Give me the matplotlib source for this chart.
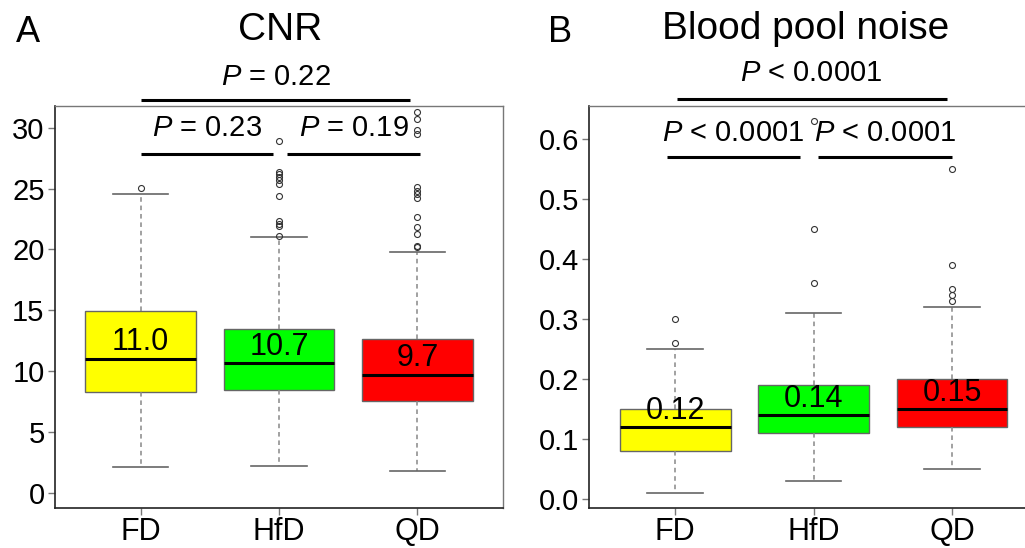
import matplotlib
matplotlib.use("Agg")
import matplotlib.pyplot as plt

plt.rcParams['font.family'] = ['Liberation Sans', 'DejaVu Sans']
plt.rcParams['mathtext.fontset'] = 'custom'
plt.rcParams['mathtext.it'] = 'Liberation Sans:italic'
plt.rcParams['mathtext.rm'] = 'Liberation Sans'

# ---------------- data ----------------
groups = ["FD", "HfD", "QD"]
colors = ["#FFFF00", "#00FF00", "#FF0000"]

# Panel A: CNR
cnr_q1 = [8.3, 8.45, 7.55]
cnr_med = [11.0, 10.65, 9.7]
cnr_q3 = [14.95, 13.45, 12.6]
cnr_lo = [2.1, 2.2, 1.75]
cnr_hi = [24.6, 21.05, 19.8]
cnr_fliers = [
    [25.05],
    [28.9, 26.4, 26.2, 25.95, 25.75, 25.35, 24.4, 22.35, 22.1, 21.95, 21.1],
    [31.3, 30.7, 29.85, 29.5, 25.1, 24.8, 24.55, 24.2, 22.65, 21.85, 21.3, 20.3, 20.2],
]
cnr_labels = ["11.0", "10.7", "9.7"]
cnr_p_pair = ["= 0.23", "= 0.19"]
cnr_p_all = "= 0.22"

# Panel B: Blood pool noise
bpn_q1 = [0.08, 0.11, 0.12]
bpn_med = [0.12, 0.14, 0.15]
bpn_q3 = [0.15, 0.19, 0.20]
bpn_lo = [0.01, 0.03, 0.05]
bpn_hi = [0.25, 0.31, 0.32]
bpn_fliers = [
    [0.26, 0.30],
    [0.36, 0.45, 0.63],
    [0.33, 0.34, 0.35, 0.39, 0.55],
]
bpn_labels = ["0.12", "0.14", "0.15"]
bpn_p_pair = ["< 0.0001", "< 0.0001"]
bpn_p_all = "< 0.0001"

W, H = 1025, 548
fig = plt.figure(figsize=(W / 100, H / 100), dpi=100)


def fig_axes(x0, y0, x1, y1):
    return fig.add_axes([x0 / W, 1 - y1 / H, (x1 - x0) / W, (y1 - y0) / H])


axA = fig_axes(55, 106, 503, 508)
axB = fig_axes(589.3, 105.7, 1037.9, 508.3)

PFS = 21


def draw_panel(ax, q1, med, q3, lo, hi, fliers, labels, ylim, yticks, yticklabels,
               p_pair, p_all, bracket_low, p_low_y, bracket_top, p_top_y,
               pair_x, top_x):
    stats = []
    for i in range(3):
        stats.append(dict(q1=q1[i], med=med[i], q3=q3[i], whislo=lo[i],
                          whishi=hi[i], fliers=fliers[i], label=groups[i]))
    bp = ax.bxp(stats, positions=[1, 2, 3], widths=0.8, capwidths=0.4,
                patch_artist=True, showfliers=True,
                boxprops=dict(edgecolor="#666666", linewidth=1.0),
                medianprops=dict(color="black", linewidth=2.2, solid_capstyle="butt"),
                whiskerprops=dict(color="#888888", linewidth=1.1, linestyle=(0, (3, 2.5))),
                capprops=dict(color="#666666", linewidth=1.2),
                flierprops=dict(marker="o", markersize=4.3, markerfacecolor="none",
                                markeredgecolor="#333333", markeredgewidth=0.8))
    for patch, c in zip(bp["boxes"], colors):
        patch.set_facecolor(c)
    for i in range(3):
        ax.annotate(labels[i], xy=(i + 1, med[i]), xytext=(0, 12),
                    textcoords="offset points", ha="center", va="center",
                    fontsize=22, color="black")

    ax.set_xlim(0.38, 3.62)
    ax.set_ylim(*ylim)
    ax.set_yticks(yticks)
    ax.set_yticklabels(yticklabels)
    ax.set_xticks([1, 2, 3])
    ax.set_xticklabels(groups)
    ax.tick_params(axis="both", labelsize=21, length=5, width=1,
                   color="#777777", direction="out")
    ax.tick_params(axis="x", labelsize=22, pad=1.5)
    ax.tick_params(axis="y", pad=2.5)
    for s in ["left", "bottom"]:
        ax.spines[s].set_color("#222222")
        ax.spines[s].set_linewidth(1.2)
    for s in ["top", "right"]:
        ax.spines[s].set_color("#777777")
        ax.spines[s].set_linewidth(1.0)

    # brackets
    (a0, a1), (b0, b1) = pair_x
    for xs in ([a0, a1], [b0, b1]):
        ax.plot(xs, [bracket_low, bracket_low], color="black", lw=2.2,
                clip_on=False, solid_capstyle="butt")
    ax.plot(top_x, [bracket_top, bracket_top], color="black", lw=2.2,
            clip_on=False, solid_capstyle="butt")
    ax.text((a0 + a1) / 2, p_low_y, "$P$ " + p_pair[0],
            ha="center", va="center", fontsize=PFS, clip_on=False)
    ax.text((b0 + b1) / 2, p_low_y, "$P$ " + p_pair[1],
            ha="center", va="center", fontsize=PFS, clip_on=False)
    ax.text(sum(top_x) / 2, p_top_y, "$P$ " + p_all,
            ha="center", va="center", fontsize=PFS, clip_on=False)


draw_panel(axA, cnr_q1, cnr_med, cnr_q3, cnr_lo, cnr_hi, cnr_fliers, cnr_labels,
           ylim=(-1.26, 31.8), yticks=[0, 5, 10, 15, 20, 25, 30],
           yticklabels=["0", "5", "10", "15", "20", "25", "30"],
           p_pair=cnr_p_pair, p_all=cnr_p_all,
           bracket_low=27.83, p_low_y=30.0, bracket_top=32.3, p_top_y=34.2,
           pair_x=((1.0, 1.955), (2.06, 3.02)), top_x=[1.0, 2.95])

draw_panel(axB, bpn_q1, bpn_med, bpn_q3, bpn_lo, bpn_hi, bpn_fliers, bpn_labels,
           ylim=(-0.015, 0.656), yticks=[0.0, 0.1, 0.2, 0.3, 0.4, 0.5, 0.6],
           yticklabels=["0.0", "0.1", "0.2", "0.3", "0.4", "0.5", "0.6"],
           p_pair=bpn_p_pair, p_all=bpn_p_all,
           bracket_low=0.571, p_low_y=0.61, bracket_top=0.667, p_top_y=0.71,
           pair_x=((0.94, 1.90), (2.035, 3.0)), top_x=[1.01, 2.96])

# titles and panel letters
fig.text(280 / W, 1 - 30 / H, "CNR", ha="center", va="center", fontsize=28)
fig.text(28 / W, 1 - 33 / H, "A", ha="center", va="center", fontsize=26)
fig.text(806 / W, 1 - 29 / H, "Blood pool noise", ha="center", va="center", fontsize=28)
fig.text(560 / W, 1 - 33 / H, "B", ha="center", va="center", fontsize=26)

fig.savefig("out.png", dpi=100)
